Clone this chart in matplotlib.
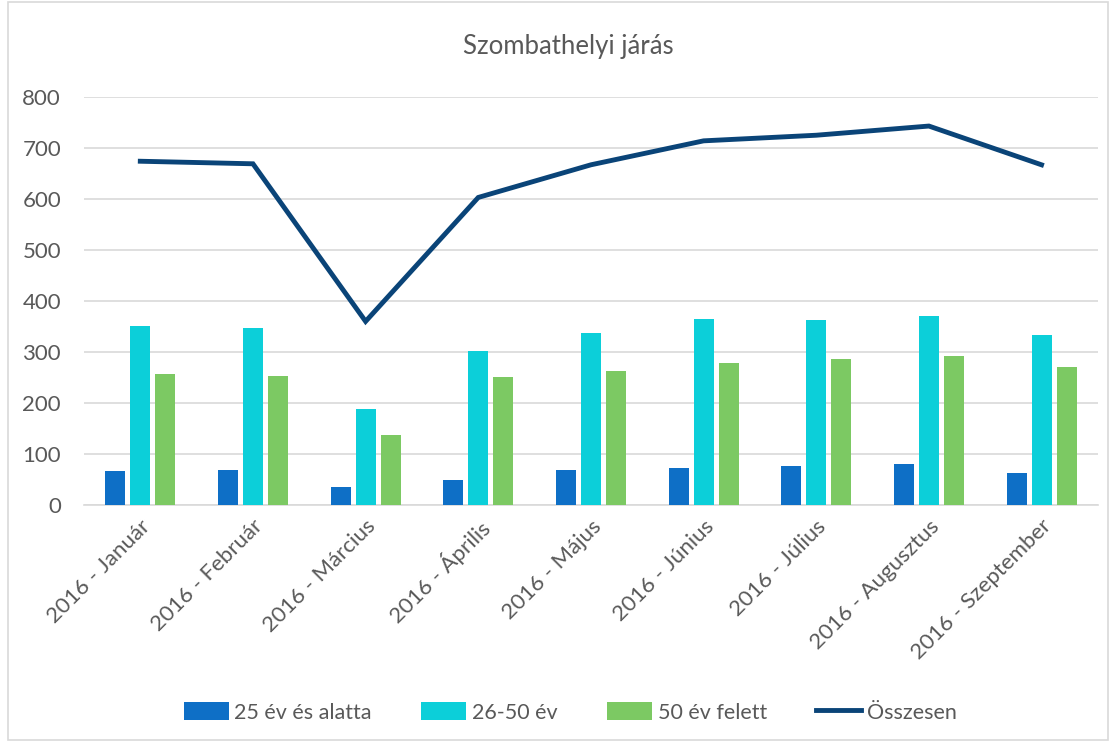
import matplotlib.pyplot as plt
import numpy as np
from matplotlib.patches import Rectangle

plt.rcParams['font.family'] = ['Lato', 'DejaVu Sans']

# data
months = ['2016 - Január', '2016 - Február', '2016 - Március', '2016 - Április',
          '2016 - Május', '2016 - Június', '2016 - Július', '2016 - Augusztus',
          '2016 - Szeptember']
under25 = [67, 68, 35, 49, 68, 72, 76, 80, 63]
age26_50 = [351, 347, 188, 302, 337, 365, 363, 371, 333]
over50 = [257, 253, 137, 251, 263, 278, 286, 292, 271]
total = [674, 669, 360, 603, 667, 714, 725, 743, 667]

c_blue = '#0E6FC6'
c_cyan = '#0CCFD9'
c_green = '#7CC963'
c_navy = '#0A4478'
txt = '#595959'

fig = plt.figure(figsize=(11.18, 7.42), dpi=100)
ax = fig.add_axes([0.0751, 0.3194, 0.9069, 0.5499])

x = np.arange(len(months))
w = 0.178
step = 0.222
ax.bar(x - step, under25, w, color=c_blue, label='25 év és alatta', zorder=3)
ax.bar(x, age26_50, w, color=c_cyan, label='26-50 év', zorder=3)
ax.bar(x + step, over50, w, color=c_green, label='50 év felett', zorder=3)
ax.plot(x, total, color=c_navy, lw=3.5, label='Összesen', zorder=4,
        solid_joinstyle='miter')

ax.set_xlim(-0.5, len(months) - 0.5)
ax.set_ylim(0, 800)
ax.set_yticks(range(0, 801, 100))
ax.yaxis.grid(True, color='#D9D9D9', lw=1.2, zorder=0)
ax.set_xticks(x)
ax.set_xticklabels(months, rotation=45, ha='right', rotation_mode='anchor',
                   fontsize=16, color=txt)
ax.tick_params(axis='y', labelsize=16, labelcolor=txt, length=0, pad=16.5)
ax.tick_params(axis='x', length=0, pad=8)
for s in ['top', 'right', 'left']:
    ax.spines[s].set_visible(False)
ax.spines['bottom'].set_color('#D9D9D9')
ax.spines['bottom'].set_linewidth(1.2)

fig.text(0.508, 0.937, 'Szombathelyi járás', ha='center', va='center',
         fontsize=18.5, color=txt)

h, l = ax.get_legend_handles_labels()
order = [1, 2, 3, 0]
leg = fig.legend([h[i] for i in order], [l[i] for i in order], loc='center',
                 bbox_to_anchor=(0.51, 0.04), ncol=4, frameon=False,
                 fontsize=15.5, handlelength=2.1, handleheight=0.9,
                 handletextpad=0.25, columnspacing=2.3)
for t in leg.get_texts():
    t.set_color(txt)

fig.patches.append(Rectangle((8 / 1118, 2 / 742), 1100 / 1118, 738 / 742,
                             transform=fig.transFigure, fill=False,
                             edgecolor='#D9D9D9', lw=1.2))

fig.savefig('out.png', dpi=100)
